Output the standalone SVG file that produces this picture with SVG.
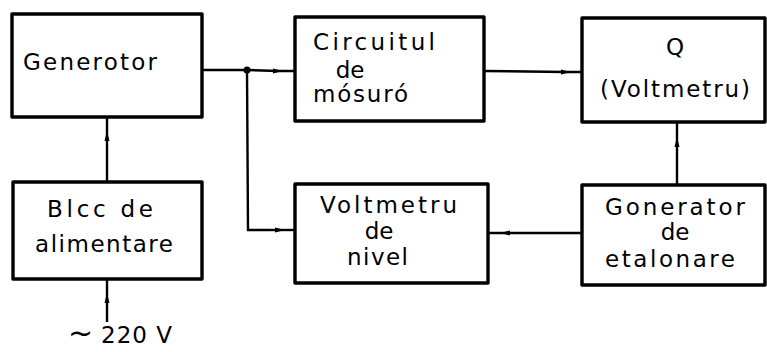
<svg xmlns="http://www.w3.org/2000/svg" width="767" height="352" viewBox="0 0 767 352">
<style>
.box{fill:#fff;stroke:#000;stroke-width:3.4;stroke-linejoin:round}
.ln{fill:none;stroke:#000;stroke-width:2.4;marker-mid:url(#ah)}
.plain{fill:none;stroke:#000;stroke-width:2.4}
text{font-family:"DejaVu Sans","Liberation Sans",sans-serif;font-size:23px;fill:#000}
.c{text-anchor:middle}
</style>
<defs>
<marker id="ah" viewBox="0 0 10 8" refX="5" refY="4" markerWidth="11" markerHeight="8" markerUnits="userSpaceOnUse" orient="auto">
<path d="M0,1.5 L10,4 L0,6.5 z" fill="#000"/>
</marker>
</defs>
<rect width="767" height="352" fill="#fff"/>
<g id="connectors">
<line class="plain" x1="202" y1="70" x2="247" y2="70"/>
<polyline class="ln" points="247,70 278,71 295,71"/>
<circle cx="247" cy="70" r="3.5" fill="#000"/>
<polyline class="plain" points="247,70 248,230 270,230"/>
<polyline class="ln" points="270,230 280,230 295,230"/>
<polyline class="ln" points="484,71 566,72 582,72"/>
<polyline class="ln" points="677,184 677,142 677,122"/>
<polyline class="ln" points="582,233 505,233 488,233"/>
<polyline class="ln" points="107,182 107,136 107,117"/>
<polyline class="ln" points="107,322 107,298 107,279"/>
</g>
<g id="generator">
<rect class="box" x="12" y="14" width="190" height="103"/>
<text x="23" y="70" textLength="134">Generotor</text>
</g>
<g id="circuitul">
<rect class="box" x="295" y="17" width="189" height="104"/>
<text x="313" y="50" textLength="122">Circuitul</text>
<text x="350" y="78" class="c">de</text>
<text x="313" y="102" textLength="95">mósuró</text>
</g>
<g id="q-voltmetru">
<rect class="box" x="582" y="18" width="183" height="104"/>
<text x="675" y="55" class="c">Q</text>
<text x="600" y="97" textLength="150">(Voltmetru)</text>
</g>
<g id="bloc">
<rect class="box" x="13" y="182" width="189" height="97"/>
<text x="47" y="217" textLength="106">Blcc de</text>
<text x="35" y="252" textLength="138">alimentare</text>
</g>
<g id="voltmetru-nivel">
<rect class="box" x="295" y="184" width="193" height="99"/>
<text x="320" y="213" textLength="137">Voltmetru</text>
<text x="379" y="239" class="c">de</text>
<text x="347" y="265" textLength="61">nivel</text>
</g>
<g id="generator-etalonare">
<rect class="box" x="582" y="185" width="183" height="100"/>
<text x="605" y="215" textLength="140">Gonerator</text>
<text x="675" y="240" class="c">de</text>
<text x="605" y="267" textLength="130">etalonare</text>
</g>
<g id="supply">
<text x="68" y="343"><tspan font-size="30">~</tspan><tspan x="101" textLength="71">220 V</tspan></text>
</g>
</svg>
